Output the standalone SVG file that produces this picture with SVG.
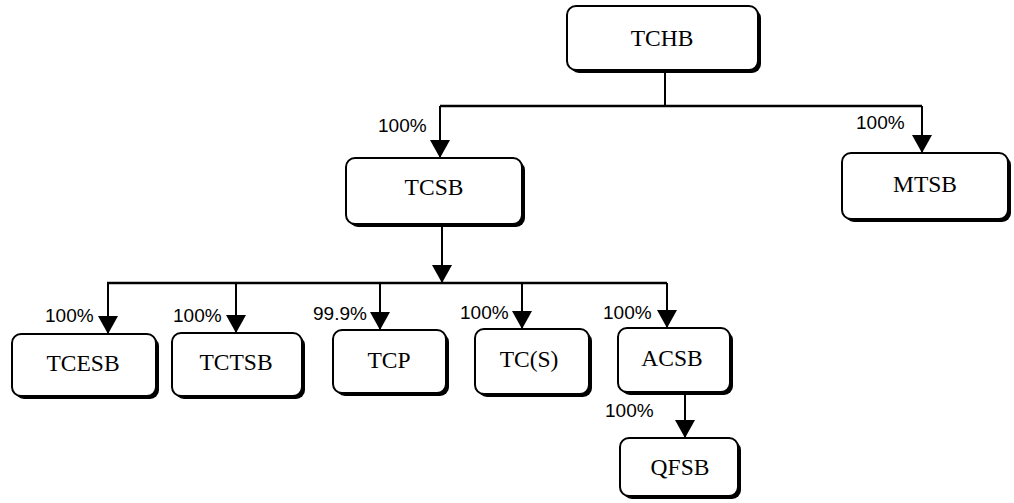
<svg xmlns="http://www.w3.org/2000/svg" width="1014" height="503" viewBox="0 0 1014 503">
<style>
.sh{fill:#000}
.bx{fill:#fff;stroke:#000;stroke-width:2}
.lb{font-family:"Liberation Serif",serif;font-size:23.5px;fill:#000;text-anchor:middle}
.pc{font-family:"Liberation Sans",sans-serif;font-size:19px;fill:#000}
.ln{fill:none;stroke:#000;stroke-width:2}
.hl{fill:none;stroke:#000;stroke-width:2.5}
</style>
<defs>
<marker id="ah" viewBox="0 0 18 20" refX="18" refY="10" markerWidth="18" markerHeight="20" markerUnits="userSpaceOnUse" orient="auto">
<path d="M0,0 L18,10 L0,20 Z" fill="#000"/>
</marker>
</defs>
<rect width="1014" height="503" fill="#fff"/>
<g id="connectors">
<path class="ln" d="M665 71 V106"/>
<path class="hl" d="M440 106 H922"/>
<path class="ln" d="M440 106 V158" marker-end="url(#ah)"/>
<path class="ln" d="M922 106 V153" marker-end="url(#ah)"/>
<path class="ln" d="M442 224 V283" marker-end="url(#ah)"/>
<path class="hl" d="M107 283 H667"/>
<path class="ln" d="M108 283 V334" marker-end="url(#ah)"/>
<path class="ln" d="M236 283 V333" marker-end="url(#ah)"/>
<path class="ln" d="M380 283 V330" marker-end="url(#ah)"/>
<path class="ln" d="M522 283 V329" marker-end="url(#ah)"/>
<path class="ln" d="M667 283 V328" marker-end="url(#ah)"/>
<path class="ln" d="M685 392 V438" marker-end="url(#ah)"/>
<text class="pc" x="378" y="132">100%</text>
<text class="pc" x="856" y="129">100%</text>
<text class="pc" x="45" y="322">100%</text>
<text class="pc" x="173" y="322">100%</text>
<text class="pc" x="313" y="320">99.9%</text>
<text class="pc" x="460" y="319">100%</text>
<text class="pc" x="603" y="319">100%</text>
<text class="pc" x="605" y="417">100%</text>
</g>
<g id="TCHB">
<rect class="sh" x="570" y="9" width="191" height="64" rx="9"/>
<rect class="bx" x="567" y="6" width="191" height="64" rx="9"/>
<text class="lb" x="662" y="46">TCHB</text>
</g>
<g id="TCSB">
<rect class="sh" x="349" y="161" width="176" height="66" rx="9"/>
<rect class="bx" x="346" y="158" width="176" height="66" rx="9"/>
<text class="lb" x="434" y="195">TCSB</text>
</g>
<g id="MTSB">
<rect class="sh" x="845" y="156" width="166" height="66" rx="9"/>
<rect class="bx" x="842" y="153" width="166" height="66" rx="9"/>
<text class="lb" x="925" y="192">MTSB</text>
</g>
<g id="TCESB">
<rect class="sh" x="15" y="337" width="144" height="62" rx="9"/>
<rect class="bx" x="12" y="334" width="144" height="62" rx="9"/>
<text class="lb" x="83" y="371">TCESB</text>
</g>
<g id="TCTSB">
<rect class="sh" x="175" y="336" width="130" height="63" rx="9"/>
<rect class="bx" x="172" y="333" width="130" height="63" rx="9"/>
<text class="lb" x="236" y="370">TCTSB</text>
</g>
<g id="TCP">
<rect class="sh" x="336" y="333" width="113" height="63" rx="9"/>
<rect class="bx" x="333" y="330" width="113" height="63" rx="9"/>
<text class="lb" x="389" y="368">TCP</text>
</g>
<g id="TCS">
<rect class="sh" x="478" y="332" width="114" height="65" rx="9"/>
<rect class="bx" x="475" y="329" width="114" height="65" rx="9"/>
<text class="lb" x="529" y="367">TC(S)</text>
</g>
<g id="ACSB">
<rect class="sh" x="621" y="331" width="112" height="64" rx="9"/>
<rect class="bx" x="618" y="328" width="112" height="64" rx="9"/>
<text class="lb" x="672" y="366">ACSB</text>
</g>
<g id="QFSB">
<rect class="sh" x="623" y="441" width="118" height="58" rx="9"/>
<rect class="bx" x="620" y="438" width="118" height="58" rx="9"/>
<text class="lb" x="680" y="475">QFSB</text>
</g>
</svg>
